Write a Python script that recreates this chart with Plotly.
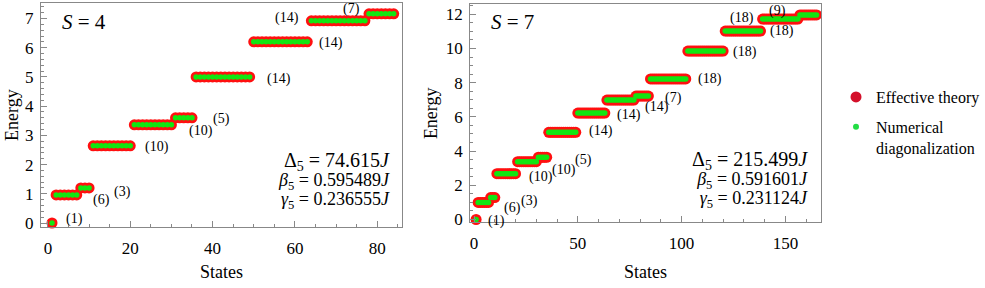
import plotly.graph_objects as go

# ---------------- data ----------------
S4_degeneracy = [1, 6, 3, 10, 10, 5, 14, 14, 14, 7]
S4_energy = [0.0, 0.96, 1.2, 2.64, 3.36, 3.6, 5.0, 6.2, 6.92, 7.16]

S7_degeneracy = [1, 6, 3, 10, 10, 5, 14, 14, 14, 7, 18, 18, 18, 18, 9]
S7_energy = [0.0, 1.0, 1.28, 2.68, 3.38, 3.64, 5.1, 6.22, 6.98, 7.22,
             8.22, 9.85, 11.02, 11.72, 11.96]

S4_params = ["Δ<sub>5</sub> = 74.615<i>J</i>",
             "<i>β</i><sub>5</sub> = 0.595489<i>J</i>",
             "<i>γ</i><sub>5</sub> = 0.236555<i>J</i>"]
S7_params = ["Δ<sub>5</sub> = 215.499<i>J</i>",
             "<i>β</i><sub>5</sub> = 0.591601<i>J</i>",
             "<i>γ</i><sub>5</sub> = 0.231124<i>J</i>"]

# label placement (style): anchor at level end/start, pixel shifts
S4_label_pos = [("end", 22, 4), ("end", 25, -5), ("end", 33, -4), ("end", 27, -1),
                ("end", 30, -6), ("end", 30, -1), ("end", 29, -2), ("end", 24, -1),
                ("start", -24, 3), ("start", -18, 5)]
S7_label_pos = [("end", 20, -1), ("end", 24, -6), ("end", 35, -3), ("end", 25, -3),
                ("end", 28, -8), ("end", 37, -3), ("end", 25, 1), ("end", 24, -2),
                ("end", 23, -7), ("end", 25, -2), ("end", 24, 0), ("end", 22, -1),
                ("end", 21, 0), ("start", -21, 1), ("start", -22, 4)]

FONT = "Liberation Serif, DejaVu Serif, Times New Roman, serif"
RED = "#ff1010"
GREEN = "#12e612"
W, H = 985, 288


def expand(deg, en):
    xs, ys, starts, ends = [], [], [], []
    n = 1
    for d, e in zip(deg, en):
        starts.append(n)
        for _ in range(d):
            xs.append(n)
            ys.append(e)
            n += 1
        ends.append(n - 1)
    return xs, ys, starts, ends


fig = go.Figure()
annotations = []

panels = [
    dict(deg=S4_degeneracy, en=S4_energy, lab=S4_label_pos, params=S4_params,
         xa="x", ya="y", xdom=[41, 403], ydom=[3, 227], xr=[-1.7, 86.06],
         yr=[-0.137, 7.53], ydt=1, yminor=0.2, xdt=20, xminor=5, S="4",
         ptx=393, pty=180, etitle_x=12),
    dict(deg=S7_degeneracy, en=S7_energy, lab=S7_label_pos, params=S7_params,
         xa="x2", ya="y2", xdom=[471, 823], ydom=[4, 222], xr=[-1.92, 167.3],
         yr=[-0.146, 12.6], ydt=2, yminor=0.5, xdt=50, xminor=10, S="7",
         ptx=812, pty=179, etitle_x=432),
]

for i, p in enumerate(panels):
    xs, ys, starts, ends = expand(p["deg"], p["en"])
    fig.add_trace(go.Scatter(x=xs, y=ys, mode="markers", xaxis=p["xa"], yaxis=p["ya"],
                             marker=dict(color=RED, size=11, line=dict(width=0)),
                             showlegend=False, cliponaxis=False, hoverinfo="skip"))
    fig.add_trace(go.Scatter(x=xs, y=ys, mode="markers", xaxis=p["xa"], yaxis=p["ya"],
                             marker=dict(color=GREEN, size=5.5, line=dict(width=0)),
                             showlegend=False, cliponaxis=False, hoverinfo="skip"))
    for d, e, s, en_, (anc, dx, dy) in zip(p["deg"], p["en"], starts, ends, p["lab"]):
        annotations.append(dict(x=(en_ if anc == "end" else s), y=e, xref=p["xa"], yref=p["ya"],
                                text=f"({d})", showarrow=False, xshift=dx, yshift=dy,
                                xanchor="center", yanchor="middle",
                                font=dict(family=FONT, size=14, color="black")))
    # S label
    annotations.append(dict(x=(p["xdom"][0] + 19) / W, y=1 - 22 / H, xref="paper", yref="paper",
                            text=f"<i>S</i> = {p['S']}", showarrow=False, xanchor="left",
                            yanchor="middle", font=dict(family=FONT, size=21, color="black")))
    # parameters (one text block, three lines)
    sizes = [20, 18, 18]
    block = "<br>".join(f'<span style="font-size:{sz}px">{t}</span>'
                        for t, sz in zip(p["params"], sizes))
    annotations.append(dict(x=p["ptx"] / W, y=1 - p["pty"] / H, xref="paper", yref="paper",
                            text=block, showarrow=False, xanchor="right", yanchor="middle",
                            align="right",
                            font=dict(family=FONT, size=14.7, color="black")))
    # axis titles
    cy = (p["ydom"][0] + p["ydom"][1]) / 2
    annotations.append(dict(x=p["etitle_x"] / W, y=1 - cy / H, xref="paper", yref="paper",
                            text="Energy", textangle=-90, showarrow=False,
                            xanchor="center", yanchor="middle",
                            font=dict(family=FONT, size=18, color="black")))
    cx = (p["xdom"][0] + p["xdom"][1]) / 2
    annotations.append(dict(x=cx / W, y=1 - 272 / H, xref="paper", yref="paper",
                            text="States", showarrow=False, xanchor="center", yanchor="middle",
                            font=dict(family=FONT, size=18, color="black")))

# legend-only traces
fig.add_trace(go.Scatter(x=[None], y=[None], mode="markers", name="Effective theory",
                         marker=dict(color="#d4102a", size=11), legendgroup="a"))
fig.add_trace(go.Scatter(x=[None], y=[None], mode="markers", name="Numerical<br>diagonalization",
                         marker=dict(color="#22dd44", size=6), legendgroup="b"))

axis_common = dict(showline=True, linecolor="#888888", linewidth=1, mirror=True,
                   ticks="inside", ticklen=6, tickcolor="#888888", showgrid=False,
                   zeroline=False, automargin=False,
                   tickfont=dict(family=FONT, size=17, color="black"))

layout = dict(width=W, height=H, margin=dict(l=0, r=0, t=0, b=0),
              plot_bgcolor="white", paper_bgcolor="white",
              annotations=annotations,
              legend=dict(x=838 / W, y=1 - 80 / H, xanchor="left", yanchor="top",
                          font=dict(family=FONT, size=16, color="black"),
                          valign="top", tracegroupgap=6, bgcolor="rgba(0,0,0,0)"))

for i, p in enumerate(panels):
    sfx = "" if i == 0 else "2"
    layout["xaxis" + sfx] = dict(axis_common, domain=[p["xdom"][0] / W, p["xdom"][1] / W],
                                 range=p["xr"], dtick=p["xdt"], tick0=0,
                                 anchor="y" + sfx, ticklabelstandoff=6,
                                 minor=dict(ticks="inside", ticklen=3, dtick=p["xminor"],
                                            tick0=0, tickcolor="#888888"))
    layout["yaxis" + sfx] = dict(axis_common, domain=[1 - p["ydom"][1] / H, 1 - p["ydom"][0] / H],
                                 range=p["yr"], dtick=p["ydt"], tick0=0,
                                 anchor="x" + sfx, ticklabelstandoff=3,
                                 minor=dict(ticks="inside", ticklen=3, dtick=p["yminor"],
                                            tick0=0, tickcolor="#888888"))

fig.update_layout(**layout)
fig.write_html("out.html", config={"displayModeBar": False},
               post_script="document.body.style.margin='0';document.body.style.padding='0';")
